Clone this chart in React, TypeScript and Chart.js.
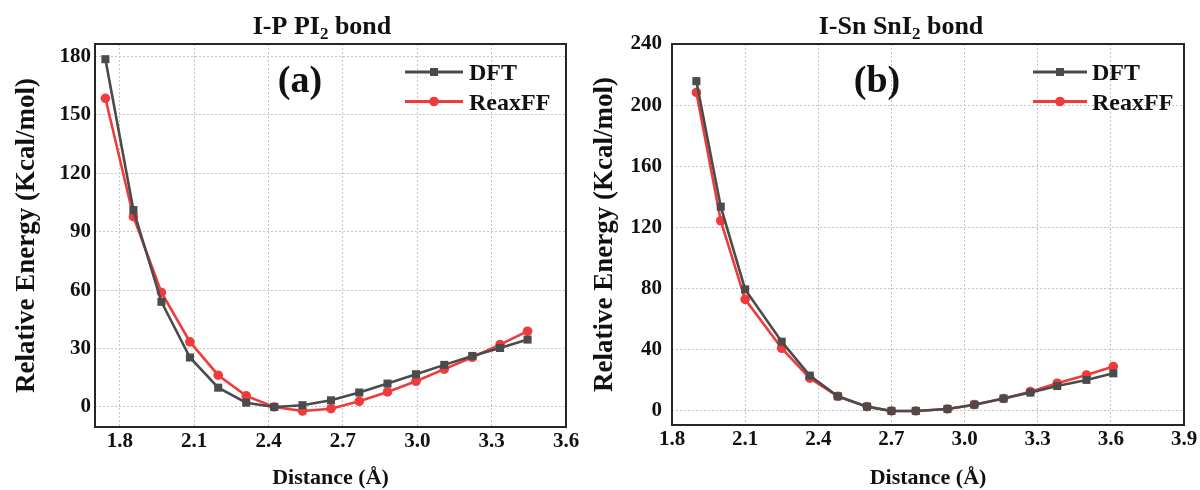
import React, { useEffect, useRef } from "react";
import { Chart, registerables } from "chart.js";

Chart.register(...registerables);

// ---------- data ----------
const distA = [1.742, 1.855, 1.968, 2.083, 2.197, 2.31, 2.423, 2.537, 2.652, 2.766, 2.88, 2.995, 3.109, 3.222, 3.334, 3.445];
const dftA = [178.6, 101.1, 54.0, 25.4, 9.9, 2.2, 0, 0.9, 3.4, 7.4, 12.0, 16.8, 21.6, 26.2, 30.3, 34.6];
const reaxA = [158.5, 97.7, 58.8, 33.4, 16.3, 5.7, 0, -2.1, -0.9, 2.9, 7.7, 13.2, 19.4, 25.5, 32.0, 38.9];

const distB = [1.9, 2.0, 2.1, 2.25, 2.365, 2.48, 2.6, 2.7, 2.8, 2.93, 3.04, 3.16, 3.27, 3.38, 3.5, 3.61];
const dftB = [215.7, 133.6, 79.5, 45.3, 23.1, 9.6, 2.8, 0, 0, 1.3, 4.1, 8.1, 12.0, 16.3, 20.3, 24.6];
const reaxB = [208.3, 124.4, 73.0, 41.0, 21.4, 9.6, 2.8, 0, 0, 1.3, 4.1, 8.1, 12.6, 18.1, 23.5, 29.0];

const xTicksA = [1.8, 2.1, 2.4, 2.7, 3.0, 3.3, 3.6];
const yTicksA = [0, 30, 60, 90, 120, 150, 180];
const xTicksB = [1.8, 2.1, 2.4, 2.7, 3.0, 3.3, 3.6, 3.9];
const yTicksB = [0, 40, 80, 120, 160, 200, 240];

const seriesNames = ["DFT", "ReaxFF"];
const xTitle = "Distance (Å)";
const yTitle = "Relative Energy (Kcal/mol)";

// ---------- styles ----------
const FONT = "'Liberation Serif', 'Times New Roman', serif";
const DFT_COLOR = "#4b4b4b";
const REAX_COLOR = "#ef3b3b";

type Panel = {
  width: number;
  left: number;
  areaLeft: number;
  areaRight: number;
  areaBottom: number;
  xMin: number;
  xMax: number;
  yMin: number;
  yMax: number;
  xTicks: number[];
  yTicks: number[];
  dist: number[];
  dft: number[];
  reax: number[];
  title: { text: string; sub?: boolean }[];
  titleX: number;
  tag: string;
  tagX: number;
  legendX1: number;
  legendX2: number;
  legendMarker: number;
  legendText: number;
  yTitleX: number;
};

const panels: Panel[] = [
  {
    width: 590,
    left: 0,
    areaLeft: 95,
    areaRight: 566,
    areaBottom: 427,
    xMin: 1.7,
    xMax: 3.6,
    yMin: -10.3,
    yMax: 186.4,
    xTicks: xTicksA,
    yTicks: yTicksA,
    dist: distA,
    dft: dftA,
    reax: reaxA,
    title: [{ text: "I-P PI" }, { text: "2", sub: true }, { text: " bond" }],
    titleX: 322,
    tag: "(a)",
    tagX: 300,
    legendX1: 405,
    legendX2: 463,
    legendMarker: 434,
    legendText: 469,
    yTitleX: 27,
  },
  {
    width: 610,
    left: 590,
    areaLeft: 82,
    areaRight: 594,
    areaBottom: 425,
    xMin: 1.8,
    xMax: 3.9,
    yMin: -9.2,
    yMax: 240,
    xTicks: xTicksB,
    yTicks: yTicksB,
    dist: distB,
    dft: dftB,
    reax: reaxB,
    title: [{ text: "I-Sn SnI" }, { text: "2", sub: true }, { text: " bond" }],
    titleX: 311,
    tag: "(b)",
    tagX: 287,
    legendX1: 443,
    legendX2: 497,
    legendMarker: 470,
    legendText: 502,
    yTitleX: 15,
  },
];

const H = 490;
const AREA_TOP = 44;

function makeDecoPlugin(p: Panel) {
  return {
    id: "deco",
    afterDraw(chart: any) {
      const ctx = chart.ctx as CanvasRenderingContext2D;
      const a = chart.chartArea;
      ctx.save();
      // frame
      ctx.strokeStyle = "#262626";
      ctx.lineWidth = 2;
      ctx.strokeRect(a.left, a.top, a.right - a.left, a.bottom - a.top);

      ctx.fillStyle = "#111";
      ctx.textBaseline = "alphabetic";
      // title with subscript
      const big = `bold 26px ${FONT}`;
      const small = `bold 17px ${FONT}`;
      let total = 0;
      for (const part of p.title) {
        ctx.font = part.sub ? small : big;
        total += ctx.measureText(part.text).width;
      }
      let x = p.titleX - total / 2;
      ctx.textAlign = "left";
      for (const part of p.title) {
        ctx.font = part.sub ? small : big;
        ctx.fillText(part.text, x, part.sub ? 39 : 34);
        x += ctx.measureText(part.text).width;
      }

      // panel tag
      ctx.font = `bold 38px ${FONT}`;
      ctx.textAlign = "center";
      ctx.fillText(p.tag, p.tagX, 92);

      // legend
      const items = [
        { name: seriesNames[0], color: DFT_COLOR, shape: "rect", ly: 72, ty: 80 },
        { name: seriesNames[1], color: REAX_COLOR, shape: "circle", ly: 101.5, ty: 110 },
      ];
      for (const it of items) {
        ctx.strokeStyle = it.color;
        ctx.lineWidth = 2.8;
        ctx.beginPath();
        ctx.moveTo(p.legendX1, it.ly);
        ctx.lineTo(p.legendX2, it.ly);
        ctx.stroke();
        ctx.fillStyle = it.color;
        if (it.shape === "rect") {
          ctx.fillRect(p.legendMarker - 4, it.ly - 4, 8, 8);
        } else {
          ctx.beginPath();
          ctx.arc(p.legendMarker, it.ly, 4.8, 0, Math.PI * 2);
          ctx.fill();
        }
        ctx.fillStyle = "#111";
        ctx.font = `bold 24px ${FONT}`;
        ctx.textAlign = "left";
        ctx.fillText(it.name, p.legendText, it.ty);
      }

      // axis titles
      ctx.font = `bold 22px ${FONT}`;
      ctx.textAlign = "center";
      ctx.fillText(xTitle, (a.left + a.right) / 2, 484);

      ctx.save();
      ctx.translate(p.yTitleX, (a.top + a.bottom) / 2);
      ctx.rotate(-Math.PI / 2);
      ctx.font = `bold 27px ${FONT}`;
      ctx.textAlign = "center";
      ctx.textBaseline = "middle";
      ctx.fillText(yTitle, 0, 0);
      ctx.restore();

      ctx.restore();
    },
  };
}

function PanelChart({ p }: { p: Panel }) {
  const ref = useRef<HTMLCanvasElement | null>(null);
  useEffect(() => {
    if (!ref.current) return;
    const toPts = (ys: number[]) => p.dist.map((x, i) => ({ x, y: ys[i] }));
    const chart = new Chart(ref.current, {
      type: "line",
      data: {
        datasets: [
          {
            label: seriesNames[0],
            data: toPts(p.dft),
            borderColor: DFT_COLOR,
            backgroundColor: DFT_COLOR,
            borderWidth: 2.6,
            pointStyle: "rect",
            pointRadius: 5.7,
            pointBorderWidth: 0,
            tension: 0,
          },
          {
            label: seriesNames[1],
            data: toPts(p.reax),
            borderColor: REAX_COLOR,
            backgroundColor: REAX_COLOR,
            borderWidth: 2.6,
            pointStyle: "circle",
            pointRadius: 4.8,
            pointBorderWidth: 0,
            tension: 0,
          },
        ],
      },
      options: {
        responsive: false,
        animation: false,
        layout: {
          padding: { top: AREA_TOP, left: 0, right: p.width - p.areaRight, bottom: 0 },
        },
        plugins: {
          legend: { display: false },
          title: { display: false },
          tooltip: { enabled: false },
        },
        scales: {
          x: {
            type: "linear",
            min: p.xMin,
            max: p.xMax,
            afterBuildTicks: (s: any) => {
              s.ticks = p.xTicks.map((v) => ({ value: v }));
            },
            afterFit: (s: any) => {
              s.height = H - p.areaBottom;
              s.paddingLeft = 0;
              s.paddingRight = 0;
            },
            grid: {
              color: "#c4c4c4",
              lineWidth: 1,
              drawTicks: false,
            },
            border: { display: false, dash: [2, 2] },
            ticks: {
              padding: 2,
              color: "#111",
              font: { family: FONT, size: 21, weight: "bold" },
              maxRotation: 0,
              callback: (v: any) => Number(v).toFixed(1),
            },
          },
          y: {
            type: "linear",
            min: p.yMin,
            max: p.yMax,
            afterBuildTicks: (s: any) => {
              s.ticks = p.yTicks.map((v) => ({ value: v }));
            },
            afterFit: (s: any) => {
              s.width = p.areaLeft;
            },
            grid: {
              color: "#c4c4c4",
              lineWidth: 1,
              drawTicks: false,
            },
            border: { display: false, dash: [2, 2] },
            ticks: {
              padding: p.left === 0 ? 4 : 10,
              color: "#111",
              font: { family: FONT, size: 21, weight: "bold" },
              callback: (v: any) => String(v),
            },
          },
        },
      } as any,
      plugins: [makeDecoPlugin(p)],
    });
    return () => chart.destroy();
  }, [p]);
  return (
    <canvas
      ref={ref}
      width={p.width}
      height={H}
      style={{ position: "absolute", left: p.left, top: 0, width: p.width, height: H }}
    />
  );
}

export default function App() {
  return (
    <div
      style={{
        position: "absolute",
        left: 0,
        top: 0,
        width: 1200,
        height: H,
        background: "#fff",
        overflow: "hidden",
      }}
    >
      {panels.map((p, i) => (
        <PanelChart key={i} p={p} />
      ))}
    </div>
  );
}
